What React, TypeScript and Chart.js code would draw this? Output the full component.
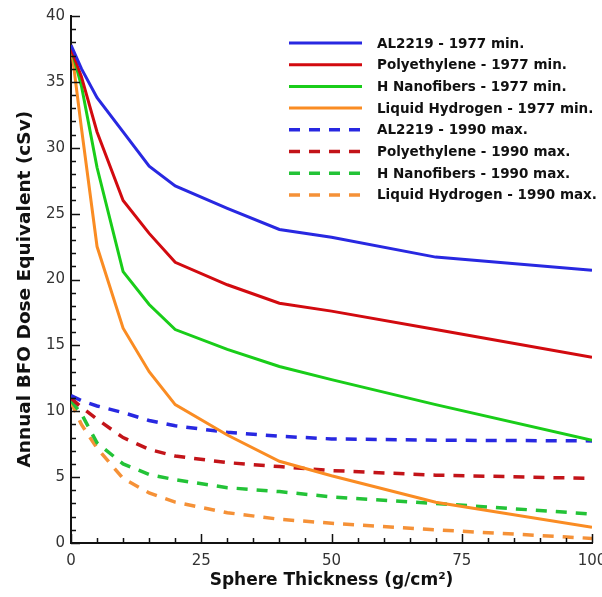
import { useEffect, useRef } from 'react';
import { Chart, registerables } from 'chart.js';

Chart.register(...registerables);

// Sphere thickness (g/cm²)
const thickness = [0, 2, 5, 10, 15, 20, 30, 40, 50, 70, 100];

// Solar minimum 1977 (cSv)
const al2219Min1977 = [37.8, 36.0, 33.8, 31.2, 28.6, 27.1, 25.4, 23.8, 23.2, 21.7, 20.7];
const polyMin1977 = [37.5, 35.4, 31.2, 26.0, 23.5, 21.3, 19.6, 18.2, 17.6, 16.2, 14.1];
const nanoMin1977 = [37.6, 34.7, 28.5, 20.6, 18.1, 16.2, 14.7, 13.4, 12.4, 10.5, 7.8];
const lh2Min1977 = [37.8, 31.5, 22.5, 16.3, 13.0, 10.5, 8.2, 6.2, 5.1, 3.1, 1.2];

// Solar maximum 1990 (cSv)
const al2219Max1990 = [11.2, 10.8, 10.4, 9.9, 9.3, 8.9, 8.4, 8.1, 7.9, 7.8, 7.75];
const polyMax1990 = [11.0, 10.3, 9.4, 8.0, 7.1, 6.6, 6.1, 5.8, 5.5, 5.15, 4.9];
const nanoMax1990 = [10.8, 9.8, 7.6, 6.0, 5.2, 4.8, 4.2, 3.9, 3.5, 3.0, 2.2];
const lh2Max1990 = [10.7, 9.0, 7.2, 4.9, 3.8, 3.1, 2.3, 1.8, 1.5, 1.0, 0.35];

const seriesLabels = [
  'AL2219 - 1977 min.',
  'Polyethylene - 1977 min.',
  'H Nanofibers - 1977 min.',
  'Liquid Hydrogen - 1977 min.',
  'AL2219 - 1990 max.',
  'Polyethylene - 1990 max.',
  'H Nanofibers - 1990 max.',
  'Liquid Hydrogen - 1990 max.',
];

const xMajorTicks = [0, 25, 50, 75, 100];
const yMajorTicks = [0, 5, 10, 15, 20, 25, 30, 35, 40];

const FONT = '"DejaVu Sans", "Liberation Sans", Arial, sans-serif';

const tickPlugin = {
  id: 'inwardTicks',
  afterDraw(chart: any) {
    const { ctx } = chart;
    const xs = chart.scales.x;
    const ys = chart.scales.y;
    ctx.save();
    ctx.strokeStyle = '#111';
    ctx.lineWidth = 1.5;
    ctx.beginPath();
    xs.ticks.forEach((t: any) => {
      const px = Math.round(xs.getPixelForValue(t.value)) + 0.5;
      const len = xMajorTicks.includes(t.value) ? 9 : 5;
      ctx.moveTo(px, ys.bottom);
      ctx.lineTo(px, ys.bottom - len);
    });
    ys.ticks.forEach((t: any) => {
      const py = Math.round(ys.getPixelForValue(t.value)) + 0.5;
      const len = yMajorTicks.includes(t.value) ? 9 : 5;
      ctx.moveTo(xs.left, py);
      ctx.lineTo(xs.left + len, py);
    });
    ctx.stroke();
    ctx.restore();
  },
};

const legendPlugin = {
  id: 'customLegend',
  afterDraw(chart: any) {
    const { ctx } = chart;
    ctx.save();
    const x0 = 289;
    const x1 = 362;
    const tx = 377;
    const y0 = 43;
    const dy = 21.7;
    chart.data.datasets.forEach((ds: any, i: number) => {
      const y = y0 + i * dy;
      ctx.strokeStyle = ds.borderColor;
      ctx.lineWidth = ds.borderWidth;
      ctx.setLineDash(ds.borderDash || []);
      ctx.beginPath();
      ctx.moveTo(x0, y);
      ctx.lineTo(x1, y);
      ctx.stroke();
      ctx.setLineDash([]);
      ctx.fillStyle = '#111';
      ctx.font = `bold 13.5px ${FONT}`;
      ctx.textBaseline = 'middle';
      ctx.textAlign = 'left';
      ctx.fillText(ds.label, tx, y + 1);
    });
    ctx.restore();
  },
};

export default function App() {
  const ref = useRef<HTMLCanvasElement>(null);

  useEffect(() => {
    if (!ref.current) return;
    const pts = (vals: number[]) => thickness.map((x, i) => ({ x, y: vals[i] }));
    const solid = [al2219Min1977, polyMin1977, nanoMin1977, lh2Min1977];
    const dashed = [al2219Max1990, polyMax1990, nanoMax1990, lh2Max1990];
    const solidColors = ['rgb(40,40,225)', 'rgb(210,10,15)', 'rgb(25,205,25)', 'rgb(250,140,35)'];
    const dashedColors = ['rgb(40,40,225)', 'rgb(195,20,25)', 'rgb(35,195,55)', 'rgb(245,145,55)'];
    const datasets: any[] = [];
    solid.forEach((v, i) =>
      datasets.push({
        label: seriesLabels[i],
        data: pts(v),
        borderColor: solidColors[i],
        borderWidth: 3,
        borderDash: [],
      })
    );
    dashed.forEach((v, i) =>
      datasets.push({
        label: seriesLabels[i + 4],
        data: pts(v),
        borderColor: dashedColors[i],
        borderWidth: 3.5,
        borderDash: [11, 9],
      })
    );

    const chart = new Chart(ref.current, {
      type: 'line',
      data: { datasets },
      options: {
        animation: false,
        responsive: false,
        layout: { padding: { top: 16, right: 10, left: 0, bottom: 0 } },
        elements: { point: { radius: 0 }, line: { tension: 0, borderCapStyle: 'butt' } },
        plugins: { legend: { display: false }, tooltip: { enabled: false } },
        scales: {
          x: {
            type: 'linear',
            min: 0,
            max: 100,
            ticks: {
              stepSize: 5,
              autoSkip: false,
              maxRotation: 0,
              padding: 2,
              color: '#333',
              font: { family: FONT, size: 15 },
              callback: (v: any) => (xMajorTicks.includes(v) ? String(v) : ''),
            },
            grid: { display: false, drawTicks: true, tickLength: 7 },
            border: { display: true, color: '#111', width: 2 },
            title: {
              display: true,
              text: 'Sphere Thickness (g/cm²)',
              color: '#111',
              font: { family: FONT, size: 17, weight: 'bold' },
              padding: { top: 0, bottom: 6 },
            },
            afterFit: (s: any) => {
              s.height = 54;
              s.paddingLeft = 0;
              s.paddingRight = 0;
            },
          },
          y: {
            type: 'linear',
            min: 0,
            max: 40,
            ticks: {
              stepSize: 1,
              autoSkip: false,
              padding: 6,
              color: '#333',
              font: { family: FONT, size: 15 },
              callback: (v: any) => (yMajorTicks.includes(v) ? String(v) : ''),
            },
            grid: { display: false, drawTicks: false },
            border: { display: true, color: '#111', width: 2 },
            title: {
              display: true,
              text: 'Annual BFO Dose Equivalent (cSv)   ',
              color: '#111',
              font: { family: FONT, size: 18.5, weight: 'bold' },
              padding: { top: 14, bottom: 0 },
            },
            afterFit: (s: any) => {
              s.width = 71;
              s.paddingTop = 0;
              s.paddingBottom = 0;
            },
          },
        },
      } as any,
      plugins: [tickPlugin, legendPlugin],
    });
    return () => chart.destroy();
  }, []);

  return (
    <div style={{ position: 'fixed', left: 0, top: 0, width: 602, height: 597, background: '#fff' }}>
      <canvas ref={ref} width={602} height={597} style={{ display: 'block' }} />
    </div>
  );
}
